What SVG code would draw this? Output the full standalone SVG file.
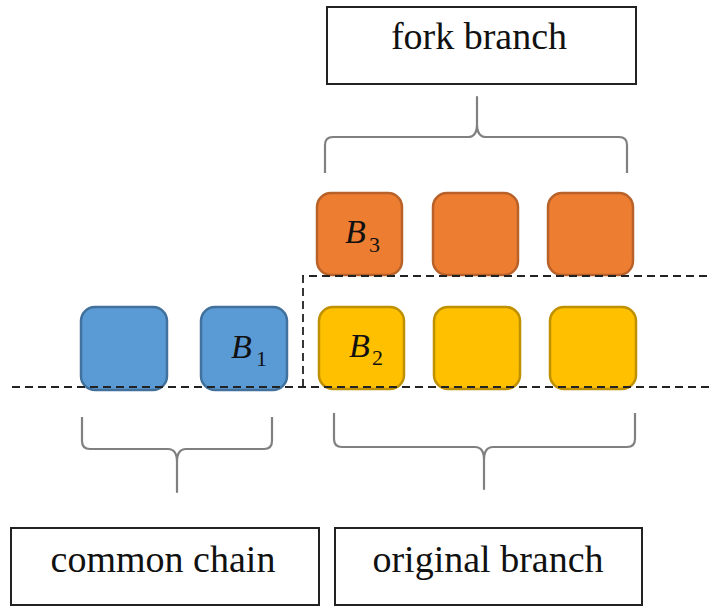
<svg xmlns="http://www.w3.org/2000/svg" width="710" height="606" viewBox="0 0 710 606">
<style>
.lbl{fill:#fff;stroke:#222;stroke-width:2}
.t{font-family:'Liberation Serif','DejaVu Serif',serif;font-size:38px;fill:#111;text-anchor:middle}
.blk{stroke-width:2.5}
.blue{fill:#5B9BD5;stroke:#41719C}
.orange{fill:#ED7D31;stroke:#B8622A}
.yellow{fill:#FFC000;stroke:#BF9000}
.bl{font-family:'Liberation Serif','DejaVu Serif',serif;font-style:italic;font-size:34px;fill:#111}
.sub{font-family:'Liberation Serif','DejaVu Serif',serif;font-size:22px;fill:#111}
.brace{fill:none;stroke:#808080;stroke-width:2.2;stroke-linejoin:round}
.dash{fill:none;stroke:#222;stroke-width:1.8;stroke-dasharray:8 5}
</style>
<g id="fork-branch-label">
<rect class="lbl" x="327" y="7" width="309" height="77"/>
<text class="t" x="479" y="49" font-family="Liberation Serif, serif">fork branch</text>
</g>
<g id="common-chain-label">
<rect class="lbl" x="11" y="528" width="308" height="77"/>
<text class="t" x="163" y="572" font-family="Liberation Serif, serif">common chain</text>
</g>
<g id="original-branch-label">
<rect class="lbl" x="335" y="528" width="307" height="77"/>
<text class="t" x="488" y="572" font-family="Liberation Serif, serif">original branch</text>
</g>
<g id="blue1"><rect class="blk blue" x="81" y="307" width="86" height="83" rx="14"/></g>
<g id="blue2"><rect class="blk blue" x="201" y="307" width="86" height="83" rx="14"/>
<text class="bl" x="231" y="358">B</text><text class="sub" x="256" y="366">1</text></g>
<g id="orange1"><rect class="blk orange" x="317" y="193" width="85" height="82" rx="14"/>
<text class="bl" x="345" y="243">B</text><text class="sub" x="369" y="252">3</text></g>
<g id="orange2"><rect class="blk orange" x="433" y="193" width="85" height="82" rx="14"/></g>
<g id="orange3"><rect class="blk orange" x="548" y="193" width="85" height="82" rx="14"/></g>
<g id="yellow1"><rect class="blk yellow" x="319" y="307" width="85" height="82" rx="14"/>
<text class="bl" x="349" y="357">B</text><text class="sub" x="372" y="365">2</text></g>
<g id="yellow2"><rect class="blk yellow" x="434" y="307" width="86" height="82" rx="14"/></g>
<g id="yellow3"><rect class="blk yellow" x="550" y="307" width="86" height="82" rx="14"/></g>
<g id="connectors">
<path class="dash" d="M12,387 H710"/>
<path class="dash" d="M303,387 V276 H710"/>
<path class="brace" d="M325,173 V145 Q325,137 333,137 H468 Q477,137 477,124 V97 V124 Q477,137 486,137 H619 Q627,137 627,145 V173"/>
<path class="brace" d="M82,417 V441 Q82,449 90,449 H168 Q177,449 177,462 V492 V462 Q177,449 186,449 H264 Q272,449 272,441 V417"/>
<path class="brace" d="M334,413 V439 Q334,447 342,447 H475 Q484,447 484,460 V489 V460 Q484,447 493,447 H627 Q635,447 635,439 V413"/>
</g>
</svg>
